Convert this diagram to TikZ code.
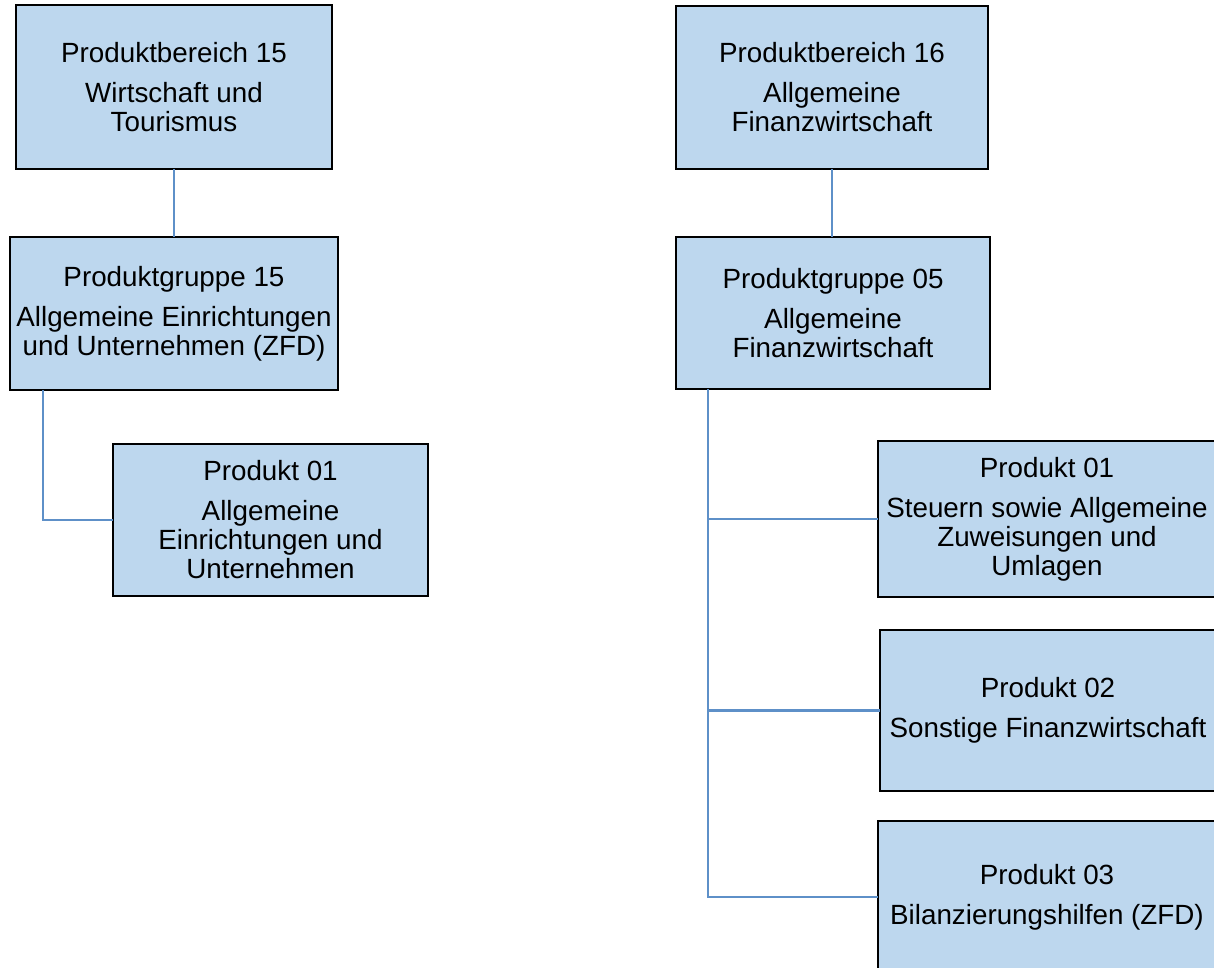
\documentclass[tikz,border=0pt]{standalone}
\usepackage{fontspec}
\setmainfont{Liberation Sans}
\definecolor{boxblue}{HTML}{BDD7EE}
\definecolor{linkblue}{HTML}{5E90C8}
\tikzset{
  unit/.style={draw=black, line width=2.6pt, fill=boxblue, rectangle, inner sep=0pt, outer sep=0pt,
    align=center, font=\fontsize{27.8}{29}\selectfont},
  link/.style={draw=linkblue, line width=2.6pt}
}
\begin{document}
\begin{tikzpicture}[x=1pt,y=-1pt]

    % Canvas
    \useasboundingbox (0,0) rectangle (1214,967);

    % Produktbereich 15 (left tree)
    \node[unit, minimum width=316pt, minimum height=164pt] (pb15) at (174,87)
      {Produktbereich 15\\[11pt] Wirtschaft und\\ Tourismus};
    \node[unit, minimum width=328pt, minimum height=153pt] (pg15) at (174,313.5)
      {Produktgruppe 15\\[11pt] Allgemeine Einrichtungen\\ und Unternehmen (ZFD)};
    \node[unit, minimum width=315pt, minimum height=152pt] (p1501) at (270.5,520)
      {Produkt 01\\[11pt] Allgemeine\\ Einrichtungen und\\ Unternehmen};

    % Produktbereich 16 (right tree)
    \node[unit, minimum width=312pt, minimum height=163pt] (pb16) at (832,87.5)
      {Produktbereich 16\\[11pt] Allgemeine\\ Finanzwirtschaft};
    \node[unit, minimum width=314pt, minimum height=152pt] (pg05) at (833,313)
      {Produktgruppe 05\\[11pt] Allgemeine\\ Finanzwirtschaft};
    \node[unit, minimum width=338pt, minimum height=156pt] (p0501) at (1047,519)
      {Produkt 01\\[11pt] Steuern sowie Allgemeine\\ Zuweisungen und\\ Umlagen};
    \node[unit, minimum width=336pt, minimum height=161pt] (p0502) at (1048,710.5)
      {Produkt 02\\[11pt] Sonstige Finanzwirtschaft};
    \node[unit, minimum width=338pt, minimum height=152pt] (p0503) at (1047,897)
      {Produkt 03\\[11pt] Bilanzierungshilfen (ZFD)};

    % Connectors left
    \draw[link] (pb15.south) -- (pg15.north);
    \draw[link] ([xshift=33pt]pg15.south west) |- (p1501.west);

    % Connectors right
    \draw[link] (pb16.south) -- (pb16.south |- pg05.north);
    \coordinate (trunk) at ([xshift=32pt]pg05.south west);
    \draw[link] (trunk) |- (p0503.west);
    \draw[link] (trunk) |- (p0501.west);
    \draw[link] (trunk) |- (p0502.west);

\end{tikzpicture}
\end{document}
